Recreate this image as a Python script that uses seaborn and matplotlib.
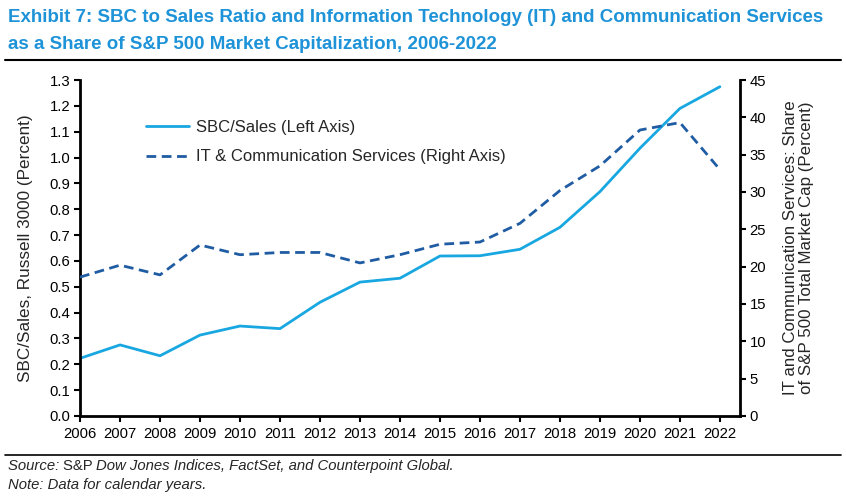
import numpy as np
import pandas as pd
import matplotlib
matplotlib.use("Agg")
import matplotlib.pyplot as plt
import seaborn as sns

# Data
years = list(range(2006, 2023))
sbc_sales = [0.223, 0.275, 0.233, 0.313, 0.348, 0.338, 0.440, 0.518, 0.533,
             0.619, 0.620, 0.645, 0.730, 0.868, 1.036, 1.190, 1.274]
it_comm_share = [18.6, 20.2, 18.9, 22.9, 21.6, 21.9, 21.9, 20.5, 21.6,
                 23.0, 23.3, 25.8, 30.2, 33.5, 38.3, 39.3, 33.0]

df = pd.DataFrame({"year": years, "sbc": sbc_sales, "itc": it_comm_share})

sns.set_style("white")
plt.rcParams["font.family"] = ["Liberation Sans", "DejaVu Sans"]

light_blue = "#18A7E0"
dark_blue = "#1F5CA3"
title_blue = "#1E93D8"

fig = plt.figure(figsize=(8.46, 5.01), dpi=100)
ax = fig.add_axes([0.0946, 0.1697, 0.78, 0.6706])
ax2 = ax.twinx()

sns.lineplot(data=df, x="year", y="sbc", ax=ax, color=light_blue, linewidth=2.0,
             label="SBC/Sales (Left Axis)", legend=False)
sns.lineplot(data=df, x="year", y="itc", ax=ax2, color=dark_blue, linewidth=2.0,
             linestyle=(0, (3.5, 2)), label="IT & Communication Services (Right Axis)",
             legend=False)

ax.set_xlim(2006, 2022.5)
ax.set_ylim(0, 1.3)
ax2.set_ylim(0, 45)
ax.set_xticks(years)
ax.set_xticklabels([str(y) for y in years])
ax.set_yticks(np.arange(0, 1.31, 0.1))
ax.set_yticklabels([f"{v:.1f}" for v in np.arange(0, 1.31, 0.1)])
ax2.set_yticks(range(0, 46, 5))

for a in (ax, ax2):
    for s in a.spines.values():
        s.set_visible(False)
    a.tick_params(labelsize=10.7, colors="black", length=4, width=1.5, direction="out")
    a.set_xlabel("")
ax.spines["left"].set_visible(True)
ax.spines["bottom"].set_visible(True)
ax2.spines["right"].set_visible(True)
for s in (ax.spines["left"], ax.spines["bottom"], ax2.spines["right"]):
    s.set_linewidth(2)
    s.set_color("black")
ax.tick_params(axis="x", bottom=True, pad=4)
ax.tick_params(axis="y", left=True, pad=3)
ax2.tick_params(axis="y", right=True, pad=3)

ax.set_ylabel("SBC/Sales, Russell 3000 (Percent)", fontsize=12.3, labelpad=12)
ax2.set_ylabel("IT and Communication Services: Share\nof S&P 500 Total Market Cap (Percent)",
               fontsize=12.2, labelpad=12, linespacing=1.1)

h1, l1 = ax.get_legend_handles_labels()
h2, l2 = ax2.get_legend_handles_labels()
ax.legend(h1 + h2, l1 + l2, loc="upper left", bbox_to_anchor=(0.085, 0.91),
          frameon=False, fontsize=12, handlelength=2.6, handletextpad=0.4,
          labelspacing=0.85, borderaxespad=0.2)

# Title and rules
fig.text(0.009, 0.965, "Exhibit 7: SBC to Sales Ratio and Information Technology (IT) and Communication Services",
         fontsize=13.5, fontweight="bold", color=title_blue, va="center")
fig.text(0.009, 0.912, "as a Share of S&P 500 Market Capitalization, 2006-2022",
         fontsize=13.5, fontweight="bold", color=title_blue, va="center")
fig.add_artist(plt.Line2D([0.006, 0.994], [0.880, 0.880], color="black", linewidth=1.5))
fig.add_artist(plt.Line2D([0.006, 0.994], [0.092, 0.092], color="black", linewidth=1.2))

# Footnotes (mixed italic)
t1 = fig.text(0.009, 0.062, "Source: ", fontsize=10.7, style="italic", va="baseline")
t2 = ax.annotate("S&P ", xy=(1, 0), xycoords=t1, fontsize=10.7, va="bottom")
t3 = ax.annotate("Dow Jones Indices, FactSet, and Counterpoint Global.", xy=(1, 0),
                 xycoords=t2, fontsize=10.7, style="italic", va="bottom")
fig.text(0.009, 0.023, "Note: Data for calendar years.", fontsize=10.7, style="italic", va="baseline")

plt.savefig("out.png", dpi=100)
